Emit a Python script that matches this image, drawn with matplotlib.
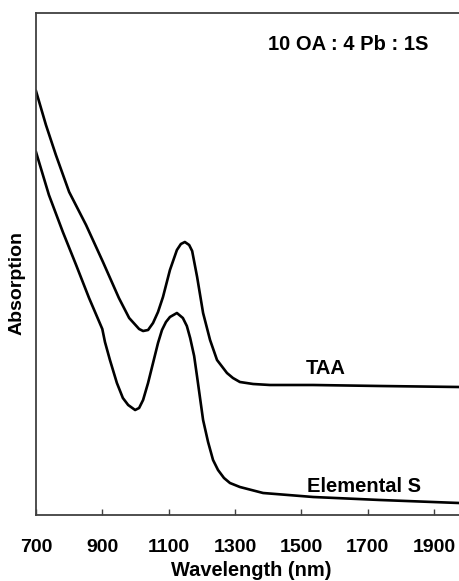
import matplotlib
matplotlib.use("Agg")
import matplotlib.pyplot as plt

# absorption spectra, arbitrary units
wl_taa = [700, 730, 760, 800, 851, 902, 950, 981, 1011, 1023, 1038, 1053,
          1068, 1083, 1104, 1125, 1137, 1149, 1162, 1171, 1186, 1204, 1225,
          1246, 1276, 1294, 1315, 1355, 1406, 1536, 1738, 1976]
abs_taa = [4.24, 3.90, 3.60, 3.23, 2.90, 2.53, 2.17, 1.97, 1.86, 1.84, 1.85, 1.92,
           2.03, 2.18, 2.45, 2.65, 2.71, 2.73, 2.70, 2.64, 2.38, 2.02, 1.75,
           1.55, 1.42, 1.37, 1.33, 1.31, 1.30, 1.30, 1.29, 1.28]

wl_elem = [700, 739, 781, 821, 860, 900, 908, 923, 944, 962, 978, 999, 1011,
           1023, 1038, 1053, 1068, 1080, 1092, 1104, 1125, 1143, 1155, 1165,
           1177, 1186, 1204, 1219, 1234, 1249, 1267, 1285, 1315, 1385, 1536,
           1738, 1976]
abs_elem = [3.63, 3.20, 2.83, 2.50, 2.17, 1.86, 1.73, 1.55, 1.32, 1.17, 1.10, 1.05, 1.07,
            1.15, 1.32, 1.52, 1.72, 1.85, 1.93, 1.98, 2.02, 1.97, 1.89, 1.77,
            1.59, 1.38, 0.95, 0.73, 0.55, 0.45, 0.37, 0.32, 0.28, 0.22, 0.18,
            0.15, 0.12]

xticks = [700, 900, 1100, 1300, 1500, 1700, 1900]

plt.rcParams['font.family'] = ['Liberation Sans', 'DejaVu Sans']
plt.rcParams['font.weight'] = 'bold'

W, H = 459, 581
fig = plt.figure(figsize=(W / 100, H / 100), dpi=100)
# axes runs past the right edge of the figure
ax = fig.add_axes([36 / W, (H - 515) / H, 431 / W, 502 / H])

ax.plot(wl_taa, abs_taa, color='black', lw=1.9, solid_joinstyle='round')
ax.plot(wl_elem, abs_elem, color='black', lw=1.9, solid_joinstyle='round')

ax.set_xlim(700, 2000)
ax.set_ylim(0, 5.02)
ax.set_xticks(xticks)
ax.set_yticks([])
ax.tick_params(axis='x', direction='in', length=4, width=1, color='#404040',
               pad=17, labelsize=14)
for s in ax.spines.values():
    s.set_color('#404040')
    s.set_linewidth(1.3)

ax.set_xlabel('Wavelength (nm)', fontsize=14.4, fontweight='bold', labelpad=4)
ax.set_ylabel('Absorption', fontsize=14, fontweight='bold')
ax.yaxis.set_label_coords(-0.024, 0.462)

ax.text(1641, 4.7, '10 OA : 4 Pb : 1S', fontsize=14.5, fontweight='bold',
        ha='center', va='center')
ax.text(1575, 1.47, 'TAA', fontsize=14.5, fontweight='bold', ha='center', va='center')
ax.text(1689, 0.29, 'Elemental S', fontsize=14.5, fontweight='bold', ha='center', va='center')

fig.savefig('out.png', dpi=100)
